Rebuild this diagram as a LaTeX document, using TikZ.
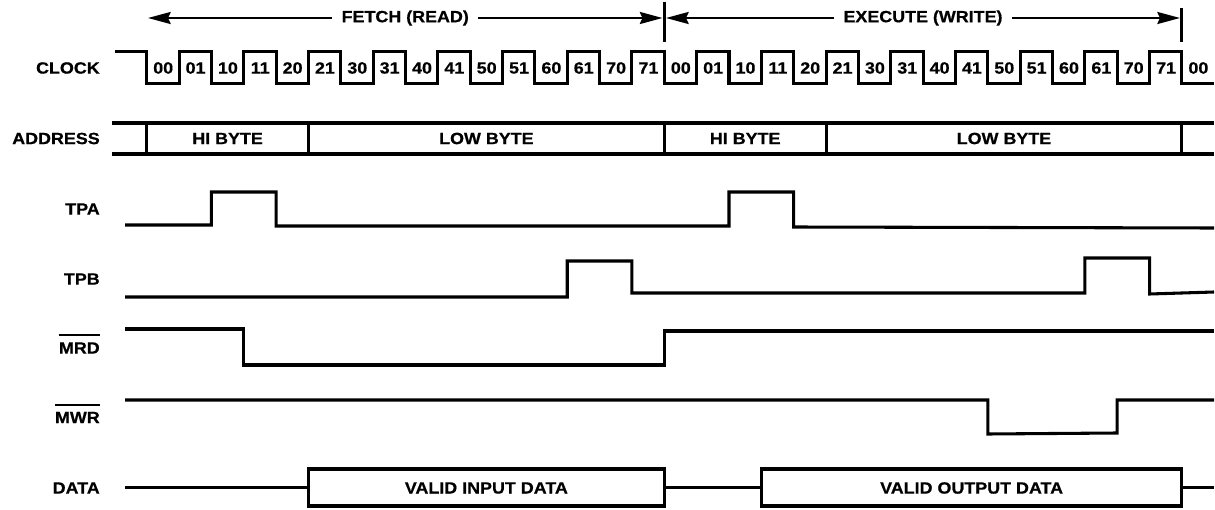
\documentclass[tikz,border=0pt]{standalone}
\usepackage{fontspec}
\setmainfont{Liberation Sans}[FakeStretch=1.1,BoldFeatures={FakeBold=0.6}]
\usetikzlibrary{arrows.meta}
\begin{document}
\begin{tikzpicture}[x=0.75pt,y=-0.75pt,
  declare function={E(\k)=146.7+32.35*\k;},
  sig/.style={line width=2.3pt,line join=miter,line cap=butt},
  lab/.style={font=\fontsize{12.2}{14}\selectfont\bfseries,inner sep=0pt},
  signame/.style={lab,anchor=east},
  overbar/.style={line width=1.5pt},
  tickmark/.style={line width=2.3pt},
  span/.style={line width=1.7pt,{Stealth[length=17pt,width=9pt,inset=2pt]}-{Stealth[length=17pt,width=9pt,inset=2pt]}},
  spantext/.style={lab,fill=white,inner xsep=7pt,inner ysep=2pt}]
\useasboundingbox (0,0) rectangle (1215,510);

% phase arrows
\coordinate (f1) at (148,18);
\coordinate (f2) at (662.5,18);
\coordinate (x1) at (666,18);
\coordinate (x2) at (1180,18);
\draw[span] (f1) -- node[spantext] (fetch) {FETCH (READ)} (f2);
\draw[span] (x1) -- node[spantext] (exec) {EXECUTE (WRITE)} (x2);
\draw[tickmark] ({E(16)},2) -- ({E(16)},42);
\draw[tickmark] ({E(32)},8) -- ({E(32)},42);

% signal names
\node[signame] (nclk) at (100,68) {CLOCK};
\node[signame] (nadr) at (100,138.5) {ADDRESS};
\node[signame] (ntpa) at (100,209) {TPA};
\node[signame] (ntpb) at (100,279) {TPB};
\node[signame] (nmrd) at (100,348) {MRD};
\node[signame] (nmwr) at (100,417.5) {MWR};
\node[signame] (ndat) at (100,488) {DATA};
\draw[overbar] ([yshift=5.5pt]nmrd.north west) -- ([yshift=5.5pt]nmrd.north east);
\draw[overbar] ([yshift=5pt]nmwr.north west) -- ([yshift=5pt]nmwr.north east);

% clock
\draw[sig] (115,51.5) \foreach \j in {0,...,15} { -- ({E(2*\j)},51.5) -- ({E(2*\j)},83.5) -- ({E(2*\j+1)},83.5) -- ({E(2*\j+1)},51.5) } -- ({E(32)},51.5) -- ({E(32)},83.5) -- (1214,83.5);
\foreach \t [count=\i from 0] in {00,01,10,11,20,21,30,31,40,41,50,51,60,61,70,71,00,01,10,11,20,21,30,31,40,41,50,51,60,61,70,71,00}
  \node[lab] (c\i) at ({E(\i)+16.5},68) {\t};

% address
\draw[sig] (112,123) -- (1214,123);
\draw[sig] (112,154) -- (1214,154);
\foreach \k in {0,5,16,21,32} \draw[sig] ({E(\k)},123) -- ({E(\k)},154);
\node[lab] (a1) at ({(E(0)+E(5))/2},138.5) {HI BYTE};
\node[lab] (a2) at ({(E(5)+E(16))/2},138.5) {LOW BYTE};
\node[lab] (a3) at ({(E(16)+E(21))/2},138.5) {HI BYTE};
\node[lab] (a4) at ({(E(21)+E(32))/2},138.5) {LOW BYTE};

% TPA
\draw[sig] (125,225) -- ({E(2)},225) -- ({E(2)},192) -- ({E(4)},192) -- ({E(4)},226) -- ({E(18)},226) -- ({E(18)},192) -- ({E(20)},192) -- ({E(20)},227) -- (1214,228);
% TPB
\draw[sig] (125,297) -- ({E(13)},297) -- ({E(13)},261) -- ({E(15)},261) -- ({E(15)},293) -- ({E(29)},293) -- ({E(29)},258) -- ({E(31)},258) -- ({E(31)},294) -- (1214,292);
% MRD
\draw[sig] (125,329) -- ({E(3)},329) -- ({E(3)},365) -- ({E(16)},365) -- ({E(16)},331) -- (1214,331);
% MWR
\draw[sig] (125,400) -- ({E(26)},400) -- ({E(26)},434) -- ({E(30)},433) -- ({E(30)},400) -- (1214,400);
% DATA
\draw[sig] (125,487.5) -- ({E(5)},487.5);
\draw[sig] ({E(5)},469) rectangle ({E(16)},506);
\draw[sig] ({E(16)},487.5) -- ({E(19)},487.5);
\draw[sig] ({E(19)},469) rectangle ({E(32)},506);
\draw[sig] ({E(32)},487.5) -- (1214,487.5);
\node[lab] (d1) at ({(E(5)+E(16))/2},488) {VALID INPUT DATA};
\node[lab] (d2) at ({(E(19)+E(32))/2},488) {VALID OUTPUT DATA};
\end{tikzpicture}
\end{document}
